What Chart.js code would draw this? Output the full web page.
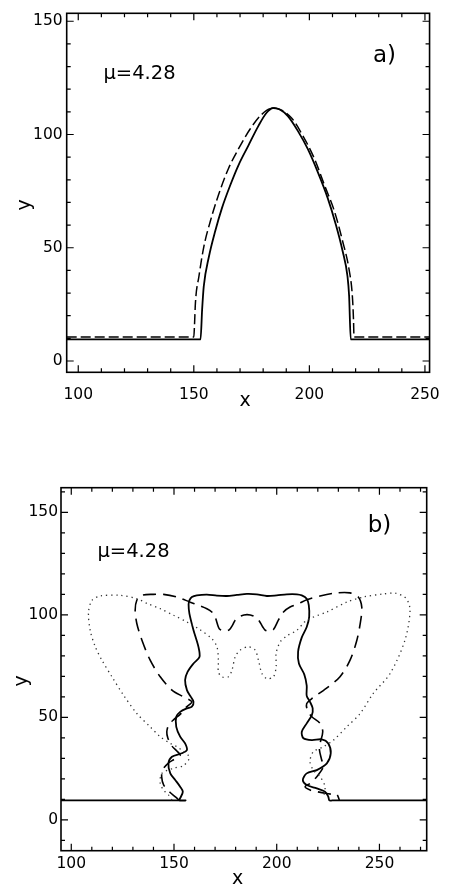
<!DOCTYPE html>
<html><head><meta charset="utf-8">
<script src="https://cdn.jsdelivr.net/npm/chart.js@4"></script>
<style>
html,body{margin:0;padding:0;background:#fff;width:453px;height:886px;overflow:hidden}
.wrap{position:absolute;left:0;width:453px;height:443px}
canvas{display:block}
</style></head><body>
<div class="wrap" style="top:0"><canvas id="ca" width="453" height="443"></canvas></div>
<div class="wrap" style="top:443px"><canvas id="cb" width="453" height="443"></canvas></div>
<script>
// ---------- Panel a) data ----------
const aSolidX = [95, 152.9, 153.6, 154.3, 156.5, 159.3, 162.2, 165.8, 169.3, 173.6, 177.9, 181.4, 184.3, 187.2, 190.7, 195.0, 199.3, 203.6, 207.9, 211.4, 214.3, 216.5, 217.2, 217.9, 252];
const aSolidY = [9.5, 9.5, 22.8, 32.9, 45.9, 57.5, 67.6, 77.7, 86.4, 95.1, 103.7, 109.5, 111.7, 111.0, 108.1, 101.6, 93.6, 83.5, 72.0, 60.4, 48.9, 37.3, 28.6, 9.5, 9.5];
const aDashX = [95, 150.0, 150.3, 150.7, 152.2, 154.3, 157.2, 160.7, 165.0, 169.3, 174.3, 179.3, 184.3, 192.2, 197.2, 202.2, 206.5, 210.8, 214.3, 217.2, 218.6, 219.1, 219.3, 252];
const aDashY = [10.6, 10.6, 16, 25.7, 37.3, 50.3, 61.9, 73.4, 85.0, 93.6, 102.3, 108.8, 111.7, 107.4, 99.4, 89.3, 77.7, 66.2, 53.2, 40.2, 28.6, 18, 10.6, 10.6];

// ---------- Panel b) data ----------
const bSolidX = [95, 155.5, 152.5, 153, 154.3, 153, 150.6, 148.2, 147.3, 149.0, 153.8, 156.3, 155.4, 153.0, 151.1, 151.1, 153.0, 156.3, 158.7, 159.5, 158.2, 156.3, 155.4, 156.6, 159.5, 162.4, 161.9, 159.5, 157.5, 157.1, 157.5, 158.7, 161.1, 166, 170.9, 175.7, 180.6, 185.5, 190.3, 195.2, 200, 204.9, 209.8, 212.2, 214.6, 215.6, 215.8, 214.6, 212.2, 210.4, 210.8, 213.4, 214.6, 214.6, 216.2, 217.5, 217.1, 214.6, 212.2, 213.0, 217.1, 221.9, 225.1, 226.3, 224.4, 219.5, 214.6, 212.7, 214.6, 219.5, 223.5, 225.1, 225.6, 227, 273];
const bSolidY = [9.5, 9.5, 9.5, 10.6, 13.8, 16.2, 19.5, 22.7, 27.6, 30.8, 32.5, 34.1, 37.3, 40.6, 45.4, 50.3, 52.7, 54.4, 55.2, 57.6, 60.0, 63.3, 68.2, 72.2, 76.3, 79.5, 84.4, 92.5, 100.6, 105, 107.1, 108.7, 109.5, 109.9, 109.4, 109.2, 109.7, 110.2, 110, 109.2, 109.5, 110, 110, 109.5, 107.9, 104.7, 99.0, 94.1, 89, 82, 76.3, 71, 65.5, 60.5, 57.6, 54.4, 51.1, 47.1, 43.0, 39.8, 38.9, 39.3, 37.3, 32.5, 27.6, 24.3, 22.7, 19.5, 17.0, 15.4, 13.8, 11.3, 9.5, 9.5, 9.5];

const bDashX = [152.5, 151, 148, 145, 144, 144.5, 147, 150, 153, 151.5, 149, 147, 146.5, 147.5, 150, 153, 156, 158.7, 154.6, 149.0, 143.3, 138.4, 134.4, 131.9, 131.1, 131.9, 134.4, 140.0, 144.9, 151.4, 157.9, 161.9, 166.0, 168.4, 170.0, 171.6, 172.5, 174.9, 177.0, 178.5, 179.8, 182.2, 185.5, 188.7, 191.1, 193.2, 194.4, 196.5, 198.4, 200.8, 203.3, 206.5, 210.6, 214.6, 221.1, 229.2, 235.7, 239.7, 241.4, 240.9, 239.0, 235.7, 230.8, 225.1, 219.5, 217.1, 214.6, 214.9, 217.1, 221.1, 222.4, 221.1, 220.8, 221.9, 222.7, 219.5, 216.2, 213.8, 216.5, 219.5, 223.5, 227, 229.2, 230.5];
const bDashY = [9.5, 11, 13.5, 17, 21, 24.5, 27.5, 29.5, 31.5, 33.5, 36, 40, 43, 46.5, 49, 51.5, 55, 57.6, 60.0, 63.3, 69.8, 77.9, 87.6, 95.8, 102.2, 107.1, 109.5, 110.0, 110, 108.7, 106.2, 104.7, 103, 101.4, 99.0, 94.1, 92.8, 92.0, 92.8, 95, 97.4, 99.3, 100.1, 99.4, 97.6, 94.1, 92.5, 92.0, 92.8, 97.4, 101.4, 103.8, 105.4, 107.4, 109.2, 110.7, 110.7, 108.7, 103.8, 97.4, 87.6, 77.9, 69.8, 64.9, 60.9, 59.2, 56.8, 53.6, 50.3, 47.1, 43.0, 37.3, 34.1, 29.2, 26.0, 21.1, 17.8, 16.2, 14.5, 13.8, 13.0, 12.5, 12.5, 9.7];

const bDotX = [149, 147.3, 144.9, 143.3, 144.1, 149.8, 154.6, 157.5, 154.5, 151.4, 148.2, 143.3, 138.4, 131.9, 125.4, 119.8, 114.9, 111.7, 109.2, 108.4, 110.1, 114.1, 123.8, 131.9, 137, 143.3, 149.8, 156.3, 162.3, 168.4, 170.9, 171.6, 171.6, 173.3, 176.5, 178.2, 179.8, 182.2, 186.2, 189.5, 191.1, 192.8, 195.2, 198.4, 199.7, 199.7, 201.7, 204.9, 209.8, 214.6, 224.4, 234.1, 242.2, 251.9, 258, 263, 264.9, 262.4, 255.2, 247.0, 240.6, 234.1, 227.6, 222.7, 217.8, 216.2, 218, 221.1, 223.5, 222.7];
const bDotY = [9.7, 12.2, 14.6, 17.8, 22.7, 25.2, 26.5, 30.5, 33.5, 35.7, 37.3, 40.6, 45.4, 51.9, 60.9, 69.8, 77.9, 84.4, 92.5, 101.4, 107.1, 109.2, 109.5, 107.9, 105.5, 103.0, 99.8, 96.5, 93, 88.4, 84.4, 77.9, 72.2, 69.8, 69.8, 73.0, 79.5, 82.8, 84.4, 82.8, 77.9, 71.4, 68.9, 69.8, 74.6, 81.2, 86.8, 89.7, 92.5, 97.4, 101.4, 106.2, 108.7, 110.2, 110.5, 108, 102.2, 87.6, 71.4, 61.7, 51.9, 45.4, 38.9, 35.7, 33.2, 28.4, 24, 21.1, 16.2, 10.6];

// ---------- axes ----------
const aXRange = [95, 252];
const aYRange = [-5, 153.5];
const bXRange = [95, 273];
const bYRange = [-15, 162];
const xMajorTicks = [100, 150, 200, 250];
const xTickLabels = ['100', '150', '200', '250'];
const yMajorTicks = [0, 50, 100, 150];
const yTickLabels = ['0', '50', '100', '150'];
const xMinorTicks = [100,110,120,130,140,150,160,170,180,190,200,210,220,230,240,250,260,270];
const yMinorTicks = [-10,0,10,20,30,40,50,60,70,80,90,100,110,120,130,140,150,160];

const panelLabels = ['a)', 'b)'];
const muLabel = 'μ=4.28';
const xTitle = 'x';
const yTitle = 'y';

const zip = (xs, ys) => xs.map((x, i) => ({x, y: ys[i]}));
const FONT = "'DejaVu Sans', 'Liberation Sans', sans-serif";

const framePlugin = {
  id: 'frame',
  afterDatasetsDraw(chart, args, o) {
    const {ctx, chartArea: a, scales: {x, y}} = chart;
    ctx.save();
    ctx.strokeStyle = '#000';
    ctx.lineWidth = 1.6;
    ctx.strokeRect(a.left, a.top, a.right - a.left, a.bottom - a.top);
    ctx.lineWidth = 1.2;
    ctx.beginPath();
    for (const v of xMinorTicks) {
      if (v < x.min || v > x.max) continue;
      const p = x.getPixelForValue(v);
      const len = xMajorTicks.includes(v) ? 7 : 4;
      ctx.moveTo(p, a.bottom); ctx.lineTo(p, a.bottom - len);
      ctx.moveTo(p, a.top); ctx.lineTo(p, a.top + len);
    }
    for (const v of yMinorTicks) {
      if (v < y.min || v > y.max) continue;
      const p = y.getPixelForValue(v);
      const len = yMajorTicks.includes(v) ? 7 : 4;
      ctx.moveTo(a.left, p); ctx.lineTo(a.left + len, p);
      ctx.moveTo(a.right, p); ctx.lineTo(a.right - len, p);
    }
    ctx.stroke();
    ctx.fillStyle = '#000';
    ctx.textAlign = 'center';
    ctx.textBaseline = 'middle';
    for (const t of o.texts) {
      ctx.save();
      ctx.font = t.size + 'px ' + FONT;
      ctx.translate(t.x, t.y);
      if (t.rot) ctx.rotate(t.rot);
      ctx.fillText(t.text, 0, 0);
      ctx.restore();
    }
    ctx.restore();
  }
};

function makeChart(id, cfg) {
  return new Chart(document.getElementById(id), {
    type: 'scatter',
    data: {datasets: cfg.datasets},
    plugins: [framePlugin],
    options: {
      responsive: false,
      animation: false,
      events: [],
      layout: {autoPadding: false, padding: cfg.padding},
      plugins: {legend: {display: false}, tooltip: {enabled: false}, frame: {texts: cfg.texts}},
      elements: {point: {radius: 0}},
      scales: {
        x: {
          type: 'linear', min: cfg.xr[0], max: cfg.xr[1],
          grid: {display: false, drawTicks: false}, border: {display: false},
          afterBuildTicks: s => { s.ticks = xMajorTicks.map(v => ({value: v})); },
          afterFit: s => { s.height = cfg.xh; },
          ticks: {autoSkip: false, maxRotation: 0, padding: cfg.xpad, color: '#000',
                  font: {family: FONT, size: 15.5},
                  callback: v => xTickLabels[xMajorTicks.indexOf(v)]}
        },
        y: {
          type: 'linear', min: cfg.yr[0], max: cfg.yr[1],
          grid: {display: false, drawTicks: false}, border: {display: false},
          afterBuildTicks: s => { s.ticks = yMajorTicks.map(v => ({value: v})); },
          afterFit: s => { s.width = cfg.yw; },
          ticks: {autoSkip: false, padding: cfg.ypad, color: '#000',
                  font: {family: FONT, size: 15.5},
                  callback: v => yTickLabels[yMajorTicks.indexOf(v)]}
        }
      }
    }
  });
}

const lineStyle = {showLine: true, borderColor: '#000', borderWidth: 1.8, fill: false, pointRadius: 0};

makeChart('ca', {
  xr: aXRange, yr: aYRange,
  padding: {top: 7, right: 21, left: 0, bottom: 0},
  yw: 66.7, xh: 70.7, xpad: 13, ypad: 4,
  datasets: [
    Object.assign({}, lineStyle, {data: zip(aDashX, aDashY), borderWidth: 1.5, borderDash: [10, 4], cubicInterpolationMode: 'monotone'}),
    Object.assign({}, lineStyle, {data: zip(aSolidX, aSolidY), cubicInterpolationMode: 'monotone'})
  ],
  texts: [
    {text: panelLabels[0], x: 384.5, y: 56, size: 23},
    {text: muLabel, x: 139.5, y: 74, size: 19.5},
    {text: xTitle, x: 245, y: 401, size: 19},
    {text: yTitle, x: 25, y: 205, size: 19, rot: -Math.PI / 2}
  ]
});

makeChart('cb', {
  xr: bXRange, yr: bYRange,
  padding: {top: 44.7, right: 26.3, left: 0, bottom: 0},
  yw: 61, xh: 35.3, xpad: 3.5, ypad: 3,
  datasets: [
    Object.assign({}, lineStyle, {data: zip(bDotX, bDotY), borderWidth: 1.3, borderColor: '#333', borderDash: [1.3, 3.8], tension: 0.3}),
    Object.assign({}, lineStyle, {data: zip(bDashX, bDashY), borderWidth: 1.6, borderDash: [13, 7], tension: 0.3}),
    Object.assign({}, lineStyle, {data: zip(bSolidX, bSolidY), tension: 0.3})
  ],
  texts: [
    {text: panelLabels[1], x: 379.5, y: 83, size: 23},
    {text: muLabel, x: 133.5, y: 109, size: 19.5},
    {text: xTitle, x: 237.5, y: 436, size: 19},
    {text: yTitle, x: 22, y: 238, size: 19, rot: -Math.PI / 2}
  ]
});
</script>
</body></html>
